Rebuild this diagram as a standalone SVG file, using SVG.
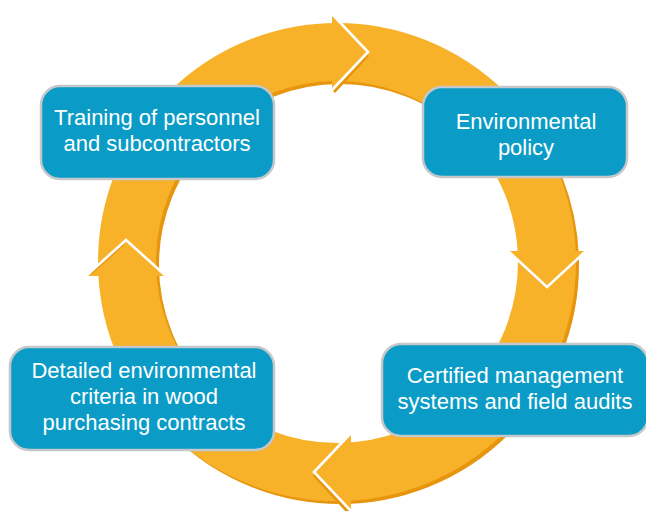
<svg xmlns="http://www.w3.org/2000/svg" width="646" height="511" viewBox="0 0 646 511">
  <style>
    .ring { fill: none; stroke-width: 58; }
    .band { stroke: #F7B22A; }
    .band-shadow { stroke: #E6950C; }
    .head { fill: #F7B22A; }
    .gap { fill: none; stroke: #FFFFFF; stroke-width: 2.6; stroke-linejoin: miter; }
    .gap-shadow { fill: none; stroke: #E6950C; stroke-width: 3; }
    .box { fill: #0A9CC6; stroke: #C4C8CA; stroke-width: 2.5; }
    .label { font-family: "Liberation Sans", Arial, sans-serif; font-size: 22px; fill: #FFFFFF; text-anchor: middle; }
  </style>
  <rect width="646" height="511" fill="#FFFFFF"/>

  <!-- cycle ring with chevron arrowheads -->
  <g id="connectors">
    <circle class="ring band-shadow" cx="340" cy="265" r="210"/>
    <circle class="ring band" cx="337" cy="262" r="210"/>

    <!-- top: pointing right -->
    <polygon class="head" points="332,14 368,52 332,90"/>
    <polyline class="gap-shadow" points="368,55 334,92"/>
    <polyline class="gap" points="332,14 368,52 332,90"/>

    <!-- right: pointing down -->
    <polygon class="head" points="508,251 547,287 586,251"/>
    <polyline class="gap" points="508,251 547,287 586,251"/>

    <!-- bottom: pointing left -->
    <polygon class="head" points="351,433 314,472 351,511"/>
    <polyline class="gap-shadow" points="314,475 349,513"/>
    <polyline class="gap" points="351,433 314,472 351,511"/>

    <!-- left: pointing up -->
    <polygon class="head" points="86,276 126,240 166,276"/>
    <polyline class="gap-shadow" points="123,244 91,273"/>
    <polyline class="gap" points="86,276 126,240 166,276"/>
  </g>

  <g id="node-training">
    <rect class="box" x="41" y="86" width="233" height="93" rx="19"/>
    <text class="label" x="157" y="125">Training of personnel</text>
    <text class="label" x="157" y="151">and subcontractors</text>
  </g>

  <g id="node-policy">
    <rect class="box" x="423" y="87" width="204" height="90" rx="19"/>
    <text class="label" x="526" y="129">Environmental</text>
    <text class="label" x="526" y="155">policy</text>
  </g>

  <g id="node-certified">
    <rect class="box" x="382" y="344" width="266" height="92" rx="19"/>
    <text class="label" x="515" y="383">Certified management</text>
    <text class="label" x="515" y="409">systems and field audits</text>
  </g>

  <g id="node-criteria">
    <rect class="box" x="10" y="347" width="264" height="103" rx="19"/>
    <text class="label" x="144" y="378">Detailed environmental</text>
    <text class="label" x="144" y="404">criteria in wood</text>
    <text class="label" x="144" y="430">purchasing contracts</text>
  </g>
</svg>
